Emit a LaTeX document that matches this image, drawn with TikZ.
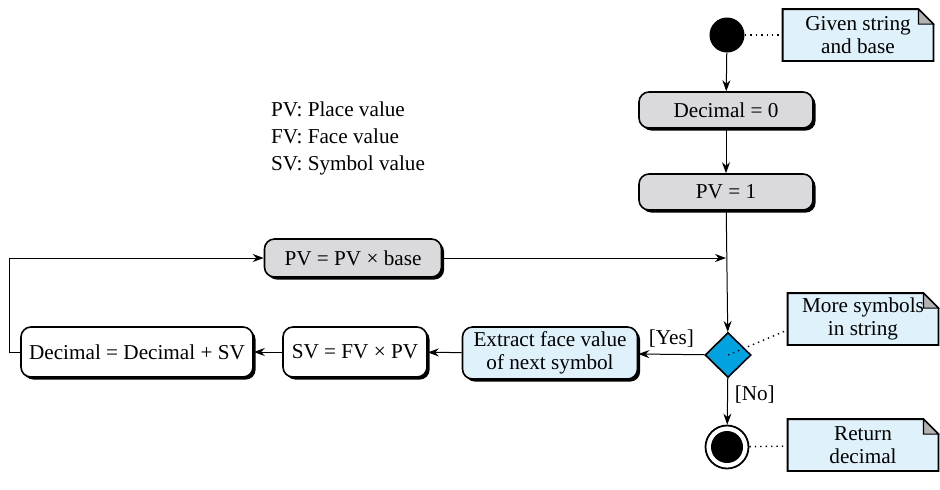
\documentclass[tikz,border=0pt]{standalone}
\usepackage{fontspec}
\setmainfont{Liberation Serif}
\usetikzlibrary{shapes.geometric,shadows,backgrounds,arrows.meta}

\definecolor{boxgray}{RGB}{218,218,221}
\definecolor{noteblue}{RGB}{223,241,250}
\definecolor{testblue}{RGB}{0,163,224}

\tikzset{
  every node/.style={font=\fontsize{10.6}{13.5}\selectfont},
  actbox/.style={draw, line width=0.8pt, rounded corners=5pt, align=center,
    inner sep=2pt, drop shadow={shadow xshift=1.3pt, shadow yshift=-1.3pt, opacity=1, fill=black}},
  grayact/.style={actbox, fill=boxgray},
  notebox/.style={align=center, minimum width=75pt, minimum height=25.5pt, inner sep=1pt},
  flow/.style={->, line width=0.5pt},
  noteline/.style={dotted, line width=0.7pt},
}

\begin{document}
\begin{tikzpicture}[x=0.5pt, y=-0.5pt, >={Stealth[length=5.5pt,width=4pt]}]
    \useasboundingbox (0,0) rectangle (940,489);

    % start and end
    \node[circle, fill=black, minimum size=17.5pt, inner sep=0] (start) at (727,35) {};
    \node[circle, draw, line width=0.9pt, fill=white, minimum size=21.5pt, inner sep=0] (stop) at (727,447) {};
    \node[circle, fill=black, minimum size=16pt, inner sep=0] (stopin) at (stop.center) {};

    % activities
    \node[grayact, minimum width=87pt, minimum height=18pt] (dec0) at (726,110) {Decimal = 0};
    \node[grayact, minimum width=87pt, minimum height=18pt] (pv1) at (726,192) {PV = 1};
    \node[grayact, minimum width=88.5pt, minimum height=19pt] (pvbase) at (353,258) {PV = PV × base};
    \node[actbox, fill=noteblue, minimum width=87.5pt, minimum height=26pt] (extract) at (550,353) {Extract face value\\[-2pt]of next symbol};
    \node[actbox, fill=white, minimum width=72pt, minimum height=25pt] (svbox) at (355,352) {SV = FV × PV};
    \node[actbox, fill=white, minimum width=116pt, minimum height=25pt] (decbox) at (137,352) {Decimal = Decimal + SV};

    % decision
    \node[diamond, draw, line width=0.8pt, fill=testblue, minimum width=23pt, minimum height=22.5pt, inner sep=0] (test) at (728,355) {};

    % notes
    \node[notebox] (given) at (858,35) {Given string\\[-2pt]and base};
    \node[notebox] (more) at (863,319) {More symbols\\[-2pt]in string};
    \node[notebox] (ret) at (863,445) {Return\\[-2pt]decimal};

    \begin{scope}[on background layer]
    \foreach \n in {given,more,ret}{
      \draw[line width=0.9pt, fill=noteblue] (\n.south west) -- (\n.south east) -- ([yshift=-7.5pt]\n.north east)
        -- ([xshift=-7.5pt]\n.north east) -- (\n.north west) -- cycle;
      \draw[line width=0.6pt, fill=gray!60] ([xshift=-7.5pt]\n.north east) -- ([xshift=-7.5pt,yshift=-7.5pt]\n.north east)
        -- ([yshift=-7.5pt]\n.north east) -- cycle;
    }
    \end{scope}

    % legend
    \node[align=left, anchor=west] (legend) at (264,138) {PV: Place value\\FV: Face value\\SV: Symbol value};

    % flow
    \draw[flow] (start) -- (dec0);
    \draw[flow] (dec0) -- (pv1);
    \draw[flow] (pv1) -- (test);
    \draw[flow] (pvbase.east) -- (pvbase -| pv1);
    \draw[flow] (test) -- node[above] {[Yes]} (extract);
    \draw[flow] (test) -- node[right, pos=0.35] {[No]} (stop);
    \draw[flow] (extract) -- (svbox);
    \draw[flow] (svbox) -- (decbox);
    \draw[flow] (decbox.west) -- ++(-11,0) |- (pvbase.west);

    % notes
    \draw[noteline] (start) -- (given);
    \draw[noteline] (test.center) -- ([yshift=-5.5pt]more.west);
    \draw[noteline] (stop) -- (ret);
\end{tikzpicture}
\end{document}
